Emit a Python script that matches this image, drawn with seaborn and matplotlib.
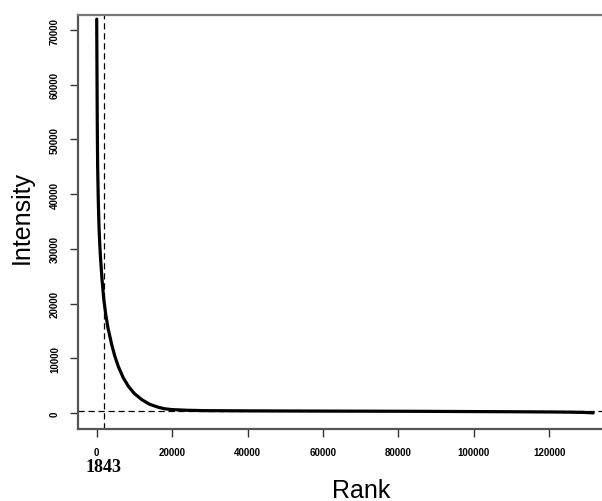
import matplotlib
matplotlib.use("Agg")
import matplotlib.pyplot as plt
import matplotlib.transforms as mtransforms
import seaborn as sns
import pandas as pd

# ---- data ----
rank = [1, 10, 30, 60, 100, 160, 250, 430, 610, 800, 1000, 1400, 1843,
        2400, 3000, 3980, 4800, 5730, 7000, 8380, 10000, 11940, 14000, 16340,
        18000, 19900, 24000, 28730, 40000, 60000, 80000, 88000, 100000, 110000,
        120000, 126000, 129000, 131000, 131650]
intensity = [72000, 70500, 68000, 64000, 59000, 52000, 45000, 38500, 34000,
             31000, 28500, 24500, 21000, 18000, 15500, 12500, 10400, 8500,
             6500, 4900, 3550, 2450, 1600, 1050, 780, 620, 500, 430, 390,
             350, 320, 300, 260, 230, 190, 150, 110, 50, 20]
cutoff_rank = 1843
cutoff_intensity = 420
x_ticks = [0, 20000, 40000, 60000, 80000, 100000, 120000]
y_ticks = [0, 10000, 20000, 30000, 40000, 50000, 60000, 70000]

df = pd.DataFrame({"Rank": rank, "Intensity": intensity})

sns.set_style("white")
plt.rcParams["font.family"] = ["Liberation Sans", "DejaVu Sans"]

fig = plt.figure(figsize=(6.02, 5.02), dpi=100)
W, H = 602, 502
left, right, top, bottom = 78, 613, 16, 430
ax = fig.add_axes([left / W, 1 - bottom / H, (right - left) / W, (bottom - top) / H])

sns.lineplot(data=df, x="Rank", y="Intensity", ax=ax, color="black",
             linewidth=2.3, estimator=None)

ax.axvline(cutoff_rank, color="black", linewidth=0.9, linestyle=(0, (5, 3)))
ax.axhline(cutoff_intensity, color="black", linewidth=0.9, linestyle=(0, (5, 3)))

ax.set_xlim(-4960, 136900)
ax.set_ylim(-2925, 72760)
ax.set_xticks(x_ticks)
ax.set_yticks(y_ticks)
ax.set_xticklabels([str(t) for t in x_ticks], fontsize=7, fontweight="bold", color="black")
ax.set_yticklabels([str(t) for t in y_ticks], fontsize=7, fontweight="bold", color="black",
                   rotation=90, va="center")
ax.tick_params(axis="both", direction="out", length=6, width=1, color="#333", pad=7)
ax.tick_params(axis="both", which="both", bottom=True, left=True)

for side in ["left", "bottom", "top", "right"]:
    ax.spines[side].set_color("#555")
    ax.spines[side].set_linewidth(1.6)
ax.spines["top"].set_color("#777")

ax.set_xlabel("Rank", fontsize=18, color="black")
ax.set_ylabel("Intensity", fontsize=18, color="black")
ax.xaxis.set_label_coords((361 - left) / (right - left), (bottom - 490.7) / (bottom - top))
ax.yaxis.set_label_coords((21.7 - left) / (right - left), (bottom - 217) / (bottom - top))
ax.xaxis.label.set_va("center")
ax.yaxis.label.set_va("center")

trans = mtransforms.blended_transform_factory(ax.transData, ax.transAxes)
ax.text(cutoff_rank, (bottom - 468) / (bottom - top), str(cutoff_rank),
        transform=trans, ha="center", va="center", fontsize=13, color="black",
        fontweight="bold", family=["Liberation Serif", "DejaVu Serif"])

fig.savefig("out.png", dpi=100)
